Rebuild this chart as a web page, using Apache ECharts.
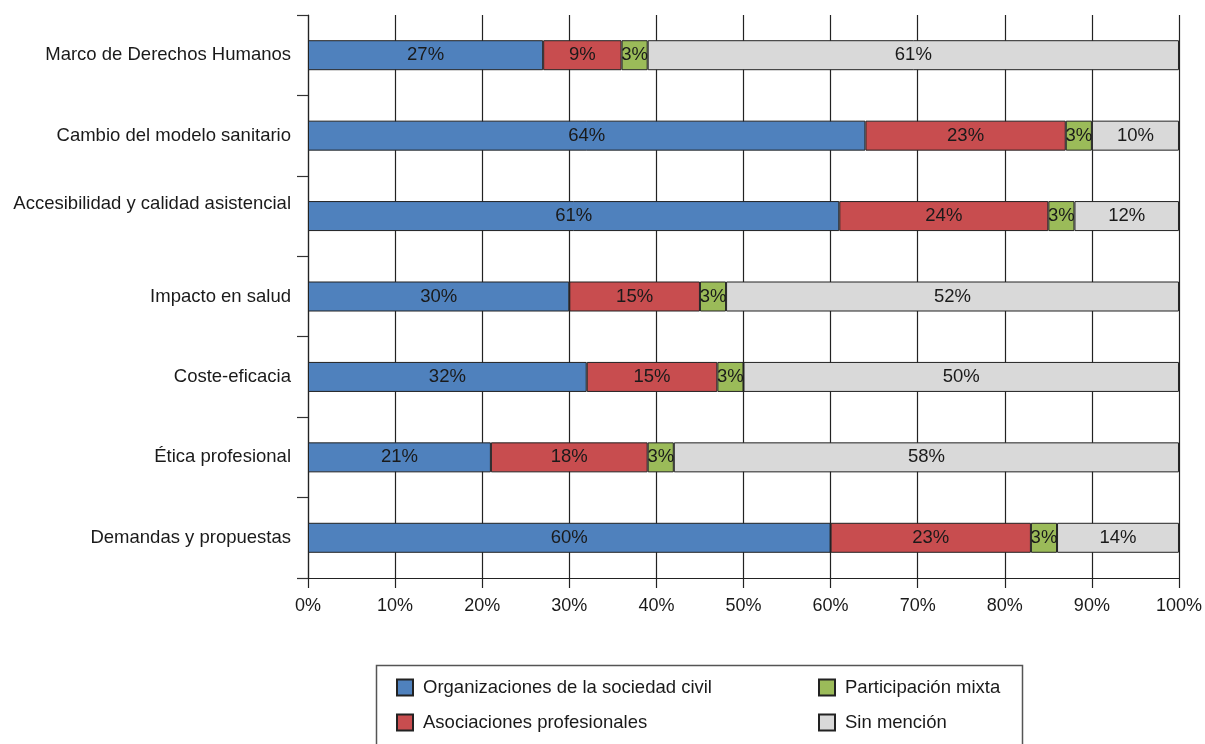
<!DOCTYPE html>
<html>
<head>
<meta charset="utf-8">
<script src="https://cdn.jsdelivr.net/npm/echarts@6/dist/echarts.min.js"></script>
<style>
html,body{margin:0;padding:0;background:#fff;}
#chart{width:1205px;height:744px;}
</style>
</head>
<body>
<div id="chart"></div>
<script>
const categories = [
  'Marco de Derechos Humanos',
  'Cambio del modelo sanitario',
  'Accesibilidad y calidad asistencial',
  'Impacto en salud',
  'Coste-eficacia',
  'Ética profesional',
  'Demandas y propuestas'
];
const seriesNames = ['Organizaciones de la sociedad civil', 'Asociaciones profesionales', 'Participación mixta', 'Sin mención'];
const orgCivil = [27, 64, 61, 30, 32, 21, 60];
const asocProf = [9, 23, 24, 15, 15, 18, 23];
const mixta = [3, 3, 3, 3, 3, 3, 3];
const sinMencion = [61, 10, 12, 52, 50, 58, 14];
const xTicks = [0, 10, 20, 30, 40, 50, 60, 70, 80, 90, 100];
const colors = ['#4F81BD', '#C84D4F', '#9BBB59', '#D9D9D9'];

const FONT = 'Liberation Sans, Arial, Helvetica, sans-serif';
const TXT = '#1a1a1a';
const FS = 18.5;

const chart = echarts.init(document.getElementById('chart'), null, {renderer: 'canvas'});
const values = [orgCivil, asocProf, mixta, sinMencion];

const series = seriesNames.map((n, i) => ({
  name: n,
  type: 'bar',
  stack: 'total',
  barWidth: 30,
  data: values[i],
  itemStyle: {color: colors[i], borderColor: '#222', borderWidth: 1},
  label: {
    show: true,
    position: 'inside',
    formatter: '{c}%',
    color: TXT,
    fontSize: FS,
    fontFamily: FONT
  },
  emphasis: {disabled: true}
}));

const legendCommon = {
  orient: 'vertical',
  top: 678,
  height: 120,
  width: 300,
  padding: 0,
  itemWidth: 16, itemHeight: 16, itemGap: 16,
  icon: 'rect',
  selectedMode: false,
  textStyle: {color: TXT, fontSize: FS, fontFamily: FONT, lineHeight: 16, padding: [0, 0, 0, 5]}
};

chart.setOption({
  animation: false,
  textStyle: {fontFamily: FONT},
  grid: {left: 308, right: 25, top: 15, bottom: 166, containLabel: false},
  xAxis: {
    type: 'value',
    min: xTicks[0],
    max: xTicks[xTicks.length - 1],
    interval: 10,
    axisLine: {show: true, lineStyle: {color: '#222', width: 1.2}},
    axisTick: {show: true, length: 10, lineStyle: {color: '#222', width: 1.2}},
    axisLabel: {formatter: '{value}%', color: TXT, fontSize: 18, fontFamily: FONT, margin: 19},
    splitLine: {show: true, lineStyle: {color: '#222', width: 1.2}}
  },
  yAxis: {
    type: 'category',
    data: categories,
    inverse: true,
    axisLine: {show: true, lineStyle: {color: '#222', width: 1.2}},
    axisTick: {show: true, length: 11, alignWithLabel: false, lineStyle: {color: '#333', width: 1.2}},
    axisLabel: {
      color: TXT, fontSize: FS, fontFamily: FONT, margin: 17,
      formatter: function (v) {
        return v === 'Accesibilidad y calidad asistencial' ? '{up|' + v + '}' : '{n|' + v + '}';
      },
      rich: {
        up: {fontSize: FS, fontFamily: FONT, color: TXT, padding: [0, 0, 24, 0]},
        n: {fontSize: FS, fontFamily: FONT, color: TXT}
      }
    },
    splitLine: {show: false}
  },
  legend: [
    Object.assign({}, legendCommon, {data: [seriesNames[0], seriesNames[1]], left: 396}),
    Object.assign({}, legendCommon, {data: [seriesNames[2], seriesNames[3]], left: 818})
  ],
  graphic: [{
    type: 'rect',
    shape: {x: 376.5, y: 665.5, width: 646, height: 120},
    style: {fill: 'none', stroke: '#555', lineWidth: 1.5},
    silent: true
  }],
  series: series
});
</script>
</body>
</html>
